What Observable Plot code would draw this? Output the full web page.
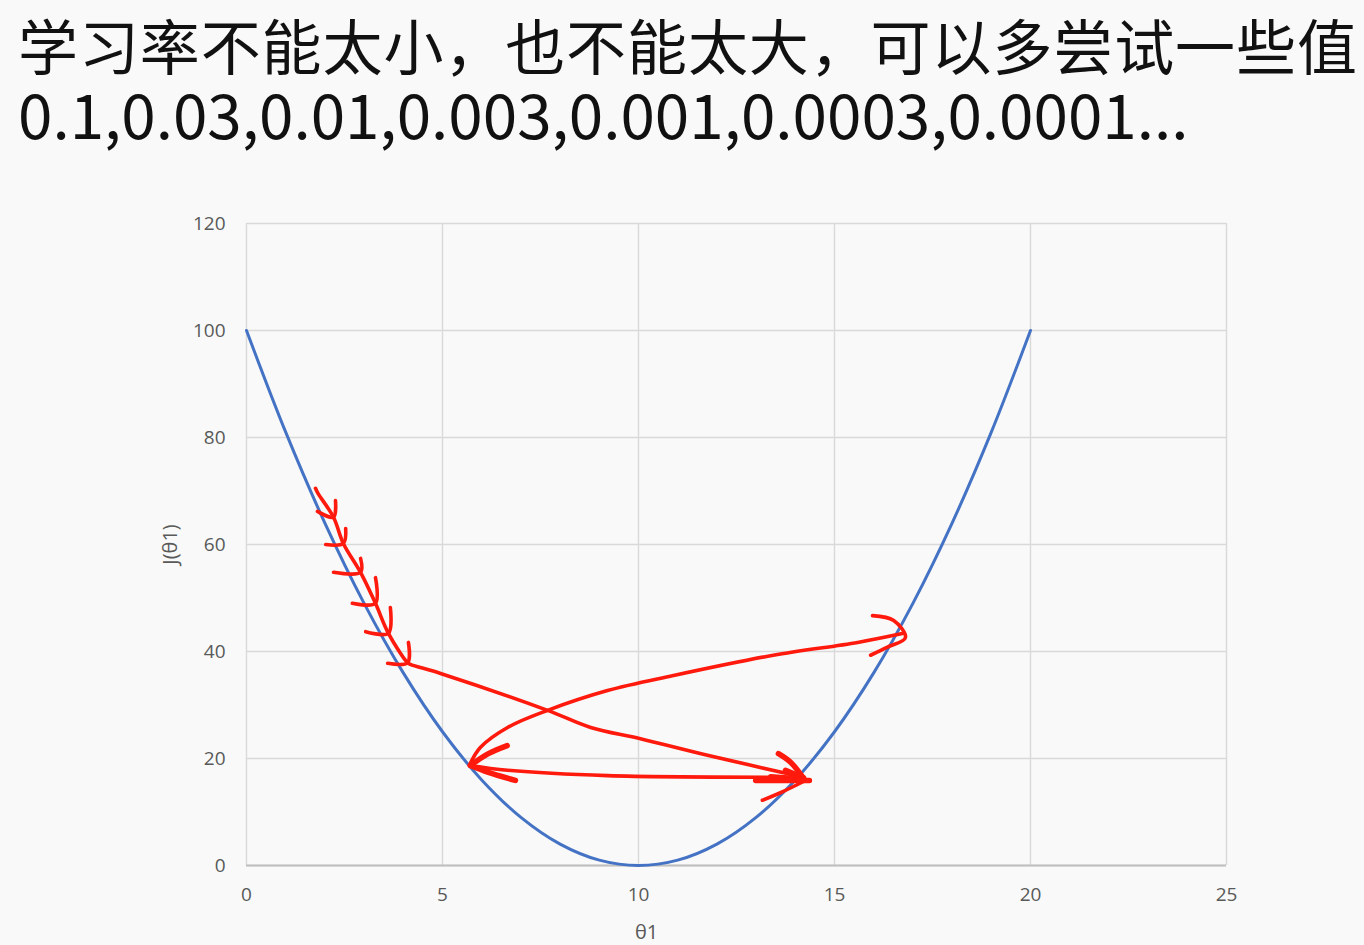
<!DOCTYPE html>
<html>
<head>
<meta charset="utf-8">
<script src="https://cdn.jsdelivr.net/npm/d3@7"></script>
<script src="https://cdn.jsdelivr.net/npm/@observablehq/plot@0.6"></script>
<style>
  html, body { margin: 0; padding: 0; background: #f8f9f8; }
  #wrap { width: 1364px; height: 945px; overflow: hidden; background: #f8f9f8; }
  #title { height: 160px; box-sizing: border-box; padding-left: 18px; padding-top: 14px;
           font-family: "Noto Sans CJK SC", sans-serif; color: #111; white-space: nowrap; }
  #t1 { font-size: 60px; line-height: 60px; height: 60px; letter-spacing: 0.9px; }
  #t2 { font-size: 62px; line-height: 62px; height: 62px; margin-top: 7px; }
  svg { display: block; }
</style>
</head>
<body>
<div id="wrap">
  <div id="title">
    <div id="t1">学习率不能太小，也不能太大，可以多尝试一些值</div>
    <div id="t2">0.1,0.03,0.01,0.003,0.001,0.0003,0.0001...</div>
  </div>
  <div id="chart"></div>
</div>
<script>
// ---- data ----
const thetaValues = [0,1,2,3,4,5,6,7,8,9,10,11,12,13,14,15,16,17,18,19,20];
const costValues  = [100,81,64,49,36,25,16,9,4,1,0,1,4,9,16,25,36,49,64,81,100];
const xTicks = [0,5,10,15,20,25];
const yTicks = [0,20,40,60,80,100,120];

// hand-drawn red annotation strokes (theta1, J) pairs
const descentStroke = [[1.76,70.5],[1.82,69.6],[2.22,65.1],[2.47,60.2],[2.91,54.8],[3.29,49.0],[3.62,43.4],[4.11,37.9],[4.18,37.6],[4.95,35.9],[7.68,29.0],[8.78,25.8],[10.05,23.7],[11.76,20.6],[14.21,16.5]];
const stepHeads = [
  [[2.27,68.2],[2.22,65.1],[1.81,66.2]],
  [[2.53,63.0],[2.47,60.2],[2.02,60.0]],
  [[2.91,57.4],[2.91,54.8],[2.22,54.8]],
  [[3.29,53.8],[3.29,49.0],[2.70,49.0]],
  [[3.67,48.2],[3.62,43.4],[3.04,43.7]],
  [[4.13,41.7],[4.11,37.9],[3.60,37.8]]
];
const bounceStroke = [[5.71,18.7],[6.66,17.8],[9.21,16.8],[14.21,16.5]];
const overshootStroke = [[5.71,19.1],[5.97,22.1],[6.66,25.8],[7.68,29.0],[9.21,32.7],[10.89,35.5],[13.44,39.3],[15.59,41.7],[16.76,43.4]];
const rightHead = [[15.97,46.7],[16.51,45.8],[16.81,42.6],[16.35,40.8],[15.92,39.3]];
// heavier arrowheads
const endHeadUpper = [[13.57,20.9],[13.88,19.3],[14.21,16.3]];
const endHeadFill = [[13.75,17.8],[14.21,16.4]];
const endHeadFill2 = [[13.37,16.6],[14.21,16.1]];
const endHeadBar = [[12.99,15.9],[14.36,15.9]];
const endHeadLower = [[13.16,12.2],[13.62,13.6],[14.21,15.7]];
const leftHeadUpper = [[6.65,22.4],[6.17,20.9],[5.71,18.7]];
const leftHeadLower = [[6.86,15.9],[6.17,17.4],[5.71,18.7]];

// ---- build tables ----
const curve = thetaValues.map((t, i) => ({theta: t, J: costValues[i]}));
const strokes = [];
const heavy = [];
function addStroke(arr, id, pts) { pts.forEach(([t, j]) => arr.push({id, theta: t, J: j})); }
addStroke(strokes, "descent", descentStroke);
stepHeads.forEach((h, i) => addStroke(strokes, "step" + i, h));
addStroke(strokes, "bounce", bounceStroke);
addStroke(strokes, "overshoot", overshootStroke);
addStroke(strokes, "rightHead", rightHead);
addStroke(strokes, "endLower", endHeadLower);
addStroke(heavy, "endUpper", endHeadUpper);
addStroke(heavy, "endFill", endHeadFill);
addStroke(heavy, "endFill2", endHeadFill2);
addStroke(heavy, "endBar", endHeadBar);
addStroke(heavy, "leftUpper", leftHeadUpper);
addStroke(heavy, "leftLower", leftHeadLower);

const gray = "#595959";
const red = "#ff1a0d";
const plot = Plot.plot({
  width: 1364,
  height: 785,
  marginLeft: 246,
  marginRight: 138,
  marginTop: 63,
  marginBottom: 80,
  style: {background: "#f8f9f8", fontFamily: "'Open Sans', sans-serif", fontSize: "19px", color: gray},
  x: {domain: [0, 25], ticks: xTicks, tickSize: 0, tickPadding: 22, label: null},
  y: {domain: [0, 120], ticks: yTicks, tickSize: 0, tickPadding: 21, label: null},
  marks: [
    Plot.gridX(xTicks, {stroke: "#d9d9d9", strokeOpacity: 1, strokeWidth: 1.4}),
    Plot.gridY(yTicks, {stroke: "#d9d9d9", strokeOpacity: 1, strokeWidth: 1.4}),
    Plot.ruleY([0], {stroke: "#bfbfbf", strokeWidth: 1.8}),
    Plot.line(curve, {x: "theta", y: "J", stroke: "#4472c4", strokeWidth: 3, curve: "catmull-rom"}),
    Plot.line(strokes, {x: "theta", y: "J", z: "id", stroke: red, strokeWidth: 3.6,
      curve: "catmull-rom", strokeLinecap: "round", strokeLinejoin: "round"}),
    Plot.line(heavy, {x: "theta", y: "J", z: "id", stroke: red, strokeWidth: 5.5,
      curve: "catmull-rom", strokeLinecap: "round", strokeLinejoin: "round"}),
    Plot.text(["J(θ1)"], {frameAnchor: "left", dx: -76, rotate: -90, textAnchor: "middle",
      text: d => d, fill: gray, fontSize: 20, ariaLabel: "ylabel"}),
    Plot.text(["θ1"], {frameAnchor: "bottom", dx: -90, dy: 73, textAnchor: "middle",
      text: d => d, fill: gray, fontSize: 20, ariaLabel: "xlabel"})
  ]
});
document.getElementById("chart").appendChild(plot);

// italic theta in the axis titles
d3.select(plot).selectAll('g[aria-label="ylabel"] text')
  .html('J(<tspan font-style="italic">θ</tspan>1)');
d3.select(plot).selectAll('g[aria-label="xlabel"] text')
  .html('<tspan font-style="italic">θ</tspan>1');
</script>
</body>
</html>
